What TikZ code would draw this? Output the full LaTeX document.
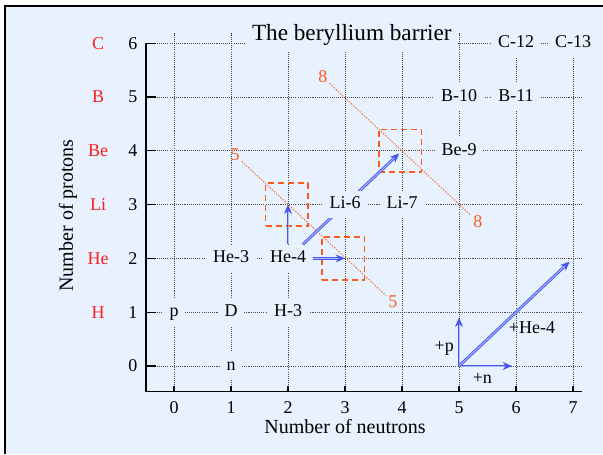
\documentclass[tikz,border=0pt]{standalone}
\usepackage{fontspec}
\setmainfont{Liberation Serif}
\usetikzlibrary{arrows.meta}

\definecolor{paneblue}{RGB}{231,242,254}
\definecolor{elemred}{RGB}{250,30,30}
\definecolor{barrierorange}{RGB}{255,90,30}
\definecolor{flowblue}{RGB}{70,85,235}
\definecolor{flowlight}{RGB}{175,185,255}

\begin{document}
\begin{tikzpicture}[x=42.75pt, y=40.35pt,
	lbl/.style={font=\fontsize{13.5}{16}\selectfont},
	iso/.style={lbl, fill=paneblue, inner xsep=5pt, inner ysep=4pt, text height=9.5pt, text depth=3pt},
	elem/.style={lbl, text=elemred},
	gridline/.style={black!70, line width=0.6pt, dash pattern=on 0.8pt off 0.8pt},
	axisline/.style={black, line width=1pt},
	sumlabel/.style={lbl, text=barrierorange, inner sep=1.5pt},
	sumline/.style={barrierorange, line width=0.7pt, dash pattern=on 1pt off 1.2pt},
	gapbox/.style={draw=barrierorange, line width=1.2pt, dash pattern=on 4.5pt off 3pt, minimum width=32pt, minimum height=32pt, inner sep=0pt},
	flow/.style={draw=flowblue, double=flowlight, double distance=0.7pt, line width=0.7pt, -{Stealth[length=7pt, width=6pt]}}]

	% Page and frame
	\useasboundingbox (-3.053,-1.636) rectangle (7.526,6.803);
	\fill[white] (-3.053,-1.636) rectangle (7.526,6.803);
	\fill[paneblue] (-2.965,-1.636) rectangle (7.526,6.697);
	\draw[line width=1.5pt] (-2.965,-1.636) -- (-2.965,6.697) -- (7.526,6.697);

	% Grid
	\foreach \n in {0,...,7}
		\draw[gridline] (\n,-0.48) -- (\n,6.19);
	\foreach \z in {0,...,6}
		\draw[gridline] (-0.49,\z) -- (7.16,\z);

	% Axes and ticks
	\draw[axisline] (-0.49,6) -- (-0.49,-0.48) -- (7.16,-0.48);
	\foreach \z in {0,...,6}
		\draw[axisline] (-0.49,\z) -- (-0.32,\z);
	\foreach \n in {0,...,7}
		\draw[axisline] (\n,-0.48) -- (\n,-0.37);

	% Mass number lines
	\node[sumlabel] (fiveA) at (1.07,3.92) {5};
	\node[sumlabel] (fiveB) at (3.84,1.19) {5};
	\draw[sumline] (fiveA) -- (fiveB);
	\node[sumlabel] (eightA) at (2.61,5.37) {8};
	\node[sumlabel] (eightB) at (5.33,2.68) {8};
	\draw[sumline] (eightA) -- (eightB);

	% Unstable gaps
	\node[gapbox] (gapLi) at (1.98,3) {};
	\node[gapbox] (gapHe) at (2.97,2) {};
	\node[gapbox] (gapBe) at (3.97,4) {};

	% Title
	\node[fill=paneblue, inner xsep=5pt, inner ysep=5pt, font=\fontsize{17.4}{20}\selectfont] (title) at (3.12,6.16) {The beryllium barrier};

	% Nuclei
	\node[iso] (proton) at (0,1) {p};
	\node[iso] (neutron) at (1,0) {n};
	\node[iso] (deut) at (1,1) {D};
	\node[iso] (trit) at (2,1) {H-3};
	\node[iso] (hethree) at (1,2) {He-3};
	\node[iso] (hefour) at (2,2) {He-4};
	\node[iso] (liseven) at (4,3) {Li-7};
	\node[iso] (benine) at (5,4) {Be-9};
	\node[iso] (bten) at (5,5) {B-10};
	\node[iso] (beleven) at (6,5) {B-11};
	\node[iso] (ctwelve) at (6,6) {C-12};
	\node[iso] (cthirteen) at (7,6) {C-13};

	% Captures from He-4
	\coordinate (ptLi) at (2,3);
	\coordinate (ptHe) at (3,2);
	\coordinate (ptBe) at (4,4);
	\draw[flow] (hefour) -- (ptLi);
	\draw[flow] (hefour) -- (ptHe);
	\draw[flow, shorten >=3pt] (hefour) -- (ptBe);
	\node[iso] (lisix) at (3,3) {Li-6};

	% Legend
	\coordinate (leg) at (5,0);
	\coordinate (legp) at (5,0.9);
	\coordinate (legn) at (5.93,0);
	\coordinate (legal) at (6.94,1.94);
	\draw[flow] (leg) -- (legp);
	\draw[flow] (leg) -- (legn);
	\draw[flow] (leg) -- (legal);
	\node[lbl] (plusp) at (4.74,0.33) {+p};
	\node[lbl] (plusn) at (5.41,-0.24) {+n};
	\node[lbl] (plusal) at (6.28,0.72) {+He-4};

	% Axis numbers
	\foreach \z in {0,...,6}
		\node[lbl] (ny\z) at (-0.72,\z) {\z};
	\foreach \n in {0,...,7}
		\node[lbl] (nx\n) at (\n,-0.78) {\n};

	% Elements
	\node[elem] (elH) at (-1.33,1) {H};
	\node[elem] (elHe) at (-1.33,2) {He};
	\node[elem] (elLi) at (-1.33,3) {Li};
	\node[elem] (elBe) at (-1.33,4) {Be};
	\node[elem] (elB) at (-1.33,5) {B};
	\node[elem] (elC) at (-1.33,6) {C};

	% Axis titles
	\node[font=\fontsize{15}{18}\selectfont] (xtitle) at (3.0,-1.13) {Number of neutrons};
	\node[font=\fontsize{15}{18}\selectfont, rotate=90] (ytitle) at (-1.86,2.8) {Number of protons};
\end{tikzpicture}
\end{document}
